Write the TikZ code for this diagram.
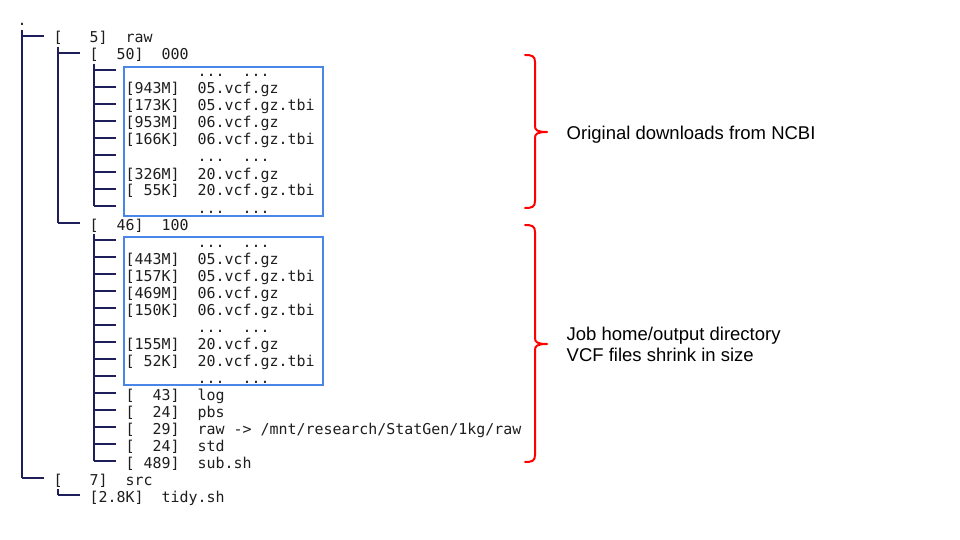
\documentclass[tikz,border=0pt]{standalone}
\usepackage{fontspec}
\newfontfamily\treefont{DejaVu Sans Mono}
\newfontfamily\labelfont{Liberation Sans}
\definecolor{txt}{HTML}{1E1E1E}
\definecolor{treeline}{HTML}{1E1E5A}
\definecolor{fringe}{HTML}{D08A3C}
\definecolor{boxblue}{HTML}{4A86E8}
\definecolor{bracered}{HTML}{FF0000}
\newcommand\gap[1]{\hphantom{#1}}
\begin{document}
\begin{tikzpicture}[x=1pt,y=-1pt,
  mono/.style={anchor=base west, inner sep=0pt, outer sep=0pt,
    font=\treefont\fontsize{14.95}{17}\selectfont, text=txt},
  treev/.style={draw=treeline, line width=1.1pt},
  treef/.style={draw=fringe, line width=0.8pt},
  treeh/.style={draw=treeline, line width=1.1pt},
  filebox/.style={draw=boxblue, line width=2pt},
  brc/.style={draw=bracered, line width=2pt, line cap=round, line join=round},
  lbl/.style={anchor=base west, inner sep=0pt, font=\labelfont\fontsize{18.5}{21.5}\selectfont, text=black}]
\useasboundingbox (0,0) rectangle (960,540);
\fill[white] (0,0) rectangle (960,540);

% ---- text rows: col c -> x = 17.5 + 9c ; row n -> baseline 26 + 17n
\node[mono] (r0)  at (17.5,26)  {.};
\node[mono] (r1)  at (53.5,43)  {[\gap{000}5]\gap{00}raw};
\node[mono] (r2)  at (89.5,60)  {[\gap{00}50]\gap{00}000};
\node[mono] (r3)  at (197.5,77) {...\gap{00}...};
\node[mono] (r4)  at (125.5,94) {[943M]\gap{00}05.vcf.gz};
\node[mono] (r5)  at (125.5,111) {[173K]\gap{00}05.vcf.gz.tbi};
\node[mono] (r6)  at (125.5,128) {[953M]\gap{00}06.vcf.gz};
\node[mono] (r7)  at (125.5,145) {[166K]\gap{00}06.vcf.gz.tbi};
\node[mono] (r8)  at (197.5,162) {...\gap{00}...};
\node[mono] (r9)  at (125.5,179) {[326M]\gap{00}20.vcf.gz};
\node[mono] (r10) at (125.5,196) {[\gap{0}55K]\gap{00}20.vcf.gz.tbi};
\node[mono] (r11) at (197.5,213) {...\gap{00}...};
\node[mono] (r12) at (89.5,230) {[\gap{00}46]\gap{00}100};
\node[mono] (r13) at (197.5,247) {...\gap{00}...};
\node[mono] (r14) at (125.5,264) {[443M]\gap{00}05.vcf.gz};
\node[mono] (r15) at (125.5,281) {[157K]\gap{00}05.vcf.gz.tbi};
\node[mono] (r16) at (125.5,298) {[469M]\gap{00}06.vcf.gz};
\node[mono] (r17) at (125.5,315) {[150K]\gap{00}06.vcf.gz.tbi};
\node[mono] (r18) at (197.5,332) {...\gap{00}...};
\node[mono] (r19) at (125.5,349) {[155M]\gap{00}20.vcf.gz};
\node[mono] (r20) at (125.5,366) {[\gap{0}52K]\gap{00}20.vcf.gz.tbi};
\node[mono] (r21) at (197.5,383) {...\gap{00}...};
\node[mono] (r22) at (125.5,400) {[\gap{00}43]\gap{00}log};
\node[mono] (r23) at (125.5,417) {[\gap{00}24]\gap{00}pbs};
\node[mono] (r24) at (125.5,434) {[\gap{00}29]\gap{00}raw\gap{0}->\gap{0}/mnt/research/StatGen/1kg/raw};
\node[mono] (r25) at (125.5,451) {[\gap{00}24]\gap{00}std};
\node[mono] (r26) at (125.5,468) {[\gap{0}489]\gap{00}sub.sh};
\node[mono] (r27) at (53.5,485) {[\gap{000}7]\gap{00}src};
\node[mono] (r28) at (89.5,502) {[2.8K]\gap{00}tidy.sh};

% ---- tree connectors
\coordinate (v0top) at (22,30);
\coordinate (v0end) at (22,478);
\coordinate (v1top) at (58,47);
\coordinate (v1end) at (58,223);
\coordinate (v1btop) at (58,489);
\coordinate (v1bend) at (58,495);
\coordinate (v2top) at (94,64);
\coordinate (v2end) at (94,206);
\coordinate (v2btop) at (94,234);
\coordinate (v2bend) at (94,461);
\foreach \a/\b in {v0top/v0end, v1top/v1end, v1btop/v1bend, v2top/v2end, v2btop/v2bend}{
  \draw[treef] ([xshift=-0.9pt]\a) -- ([xshift=-0.9pt]\b);
  \draw[treev] (\a) -- (\b);
}
\foreach \r in {1,27}{ \draw[treeh] (22,{26+17*\r-7}) -- ++(22,0); }
\foreach \r in {2,12,28}{ \draw[treeh] (58,{26+17*\r-7}) -- ++(22,0); }
\foreach \r in {3,...,11}{ \draw[treeh] (94,{26+17*\r-7}) -- ++(22,0); }
\foreach \r in {13,...,26}{ \draw[treeh] (94,{26+17*\r-7}) -- ++(22,0); }

% ---- blue boxes
\draw[filebox] (123.5,67) rectangle (322.5,215.5);
\draw[filebox] (123.5,236.5) rectangle (322.5,385);

% ---- red braces
\draw[brc] (525,55) .. controls (532,55) and (535,56) .. (535,62)
  -- (535,126) .. controls (535,130) and (537,132) .. (547,132)
  .. controls (537,132) and (535,134) .. (535,138)
  -- (535,201) .. controls (535,207) and (532,208) .. (525,208);
\draw[brc] (525,225) .. controls (532,225) and (535,226) .. (535,232)
  -- (535,338) .. controls (535,342) and (537,344) .. (547,344)
  .. controls (537,344) and (535,346) .. (535,350)
  -- (535,455) .. controls (535,461) and (532,462) .. (525,462);

% ---- labels
\node[lbl] (lab1) at (566.5,139.5) {Original downloads from NCBI};
\node[lbl] (lab2) at (566.5,340) {Job home/output directory};
\node[lbl] (lab3) at (566.5,361.5) {VCF files shrink in size};
\end{tikzpicture}
\end{document}
